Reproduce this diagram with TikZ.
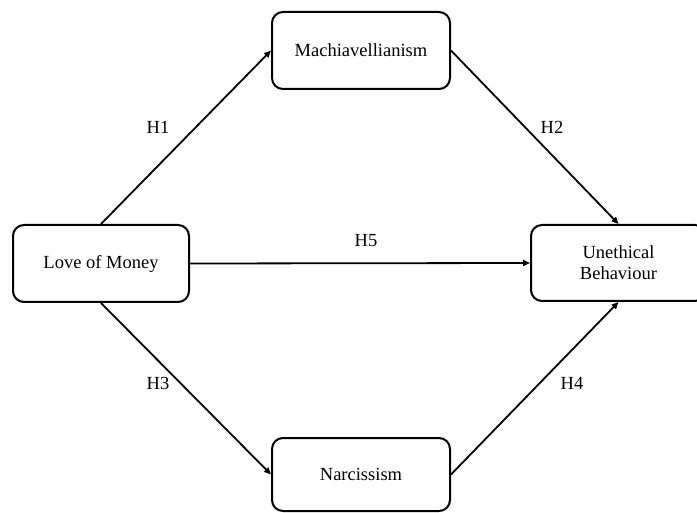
\documentclass[tikz,border=0pt]{standalone}
\usepackage{fontspec}
\setmainfont{Liberation Serif}
\usetikzlibrary{arrows.meta}
\begin{document}
\begin{tikzpicture}[x=1pt,y=-1pt,
  box/.style={draw=black,line width=2pt,rounded corners=11pt,inner sep=0pt,align=center,font=\fontsize{18.5}{21}\selectfont},
  conn/.style={line width=1.8pt,-{Triangle[length=7pt,width=6pt]}},
  lab/.style={font=\fontsize{18.5}{21}\selectfont}]
\useasboundingbox (0,0) rectangle (697,513);
\node[box,minimum width=178pt,minimum height=77pt] (M) at (361,50.5) {Machiavellianism};
\node[box,minimum width=176pt,minimum height=77pt] (L) at (101,263.5) {Love of Money};
\node[box,minimum width=175pt,minimum height=76pt] (U) at (618.5,263) {Unethical\\Behaviour};
\node[box,minimum width=178pt,minimum height=73pt] (N) at (361,474.5) {Narcissism};
\draw[conn] (L.north) -- (M.west);
\draw[conn] (M.east) -- (U.north);
\draw[conn] (L.east) -- (U.west);
\draw[conn] (L.south) -- (N.west);
\draw[conn] (N.east) -- (U.south);
\node[lab] (h1) at (158,127) {H1};
\node[lab] (h2) at (552,127) {H2};
\node[lab] (h5) at (366,241) {H5};
\node[lab] (h3) at (158,383) {H3};
\node[lab] (h4) at (572,383) {H4};
\end{tikzpicture}
\end{document}
